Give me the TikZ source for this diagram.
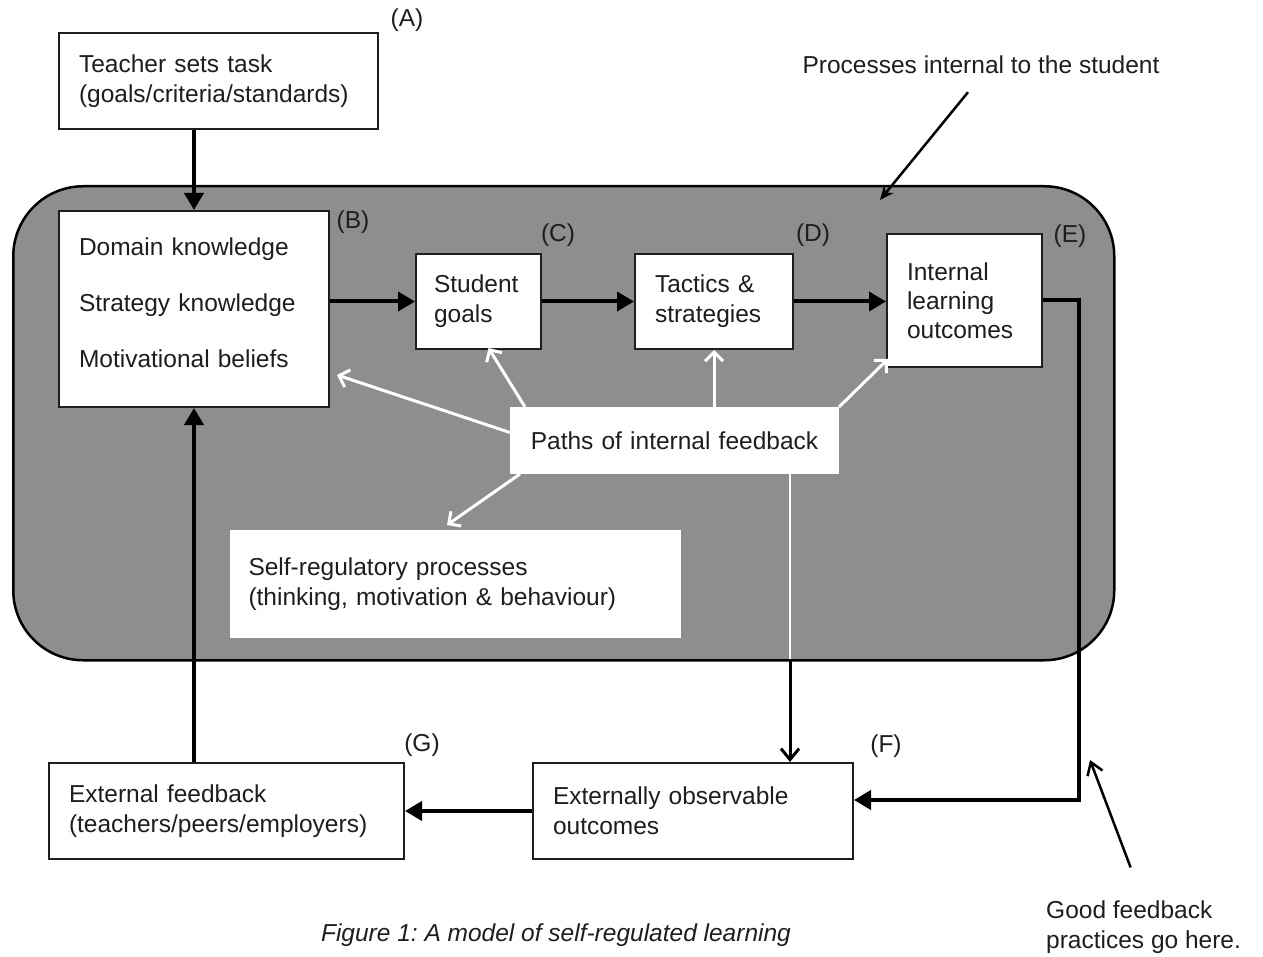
\documentclass[tikz,border=0pt]{standalone}
\usepackage{fontspec}
\setmainfont{Liberation Sans}
\usetikzlibrary{arrows.meta,calc}
\definecolor{bggray}{RGB}{142,142,142}
\definecolor{ink}{RGB}{30,30,30}
\frenchspacing
\begin{document}
\begin{tikzpicture}[x=1pt,y=-1pt,
  every node/.style={font=\fontsize{24.5}{30}\selectfont,text=ink},
  box/.style={draw=ink,line width=2pt,fill=white,anchor=north west,align=left,inner xsep=20pt,inner ysep=0pt},
  wbox/.style={draw=white,line width=1pt,fill=white,anchor=north west,inner ysep=0pt},
  lbl/.style={inner sep=0pt},
  barr/.style={draw=black,line width=4pt,-{Triangle[length=17pt,width=19pt]}},
  warr/.style={draw=white,line width=3pt,-{Straight Barb[length=9pt,width=18pt]}},
  thinarr/.style={draw=black,line width=2.5pt}
]
\useasboundingbox (0,0) rectangle (1263,957);

% region of internal processes
\node[draw=black,line width=2.5pt,fill=bggray,rounded corners=70pt,anchor=north west,
      minimum width=1101pt,minimum height=474pt,inner sep=0pt] (region) at (12,185) {};

% boxes
\node[box,minimum width=319pt,minimum height=96pt,text width=279pt] (A) at (58,32)
  {Teacher sets task\\(goals/criteria/standards)};
\node[box,minimum width=270pt,minimum height=196pt,text width=230pt] (B) at (58,210)
  {Domain knowledge\\[26pt]Strategy knowledge\\[26pt]Motivational beliefs\\[-26pt]\strut};
\node[box,minimum width=125pt,minimum height=95pt,inner xsep=18pt,text width=89pt] (C) at (415,253)
  {Student\\goals};
\node[box,minimum width=158pt,minimum height=95pt,text width=118pt] (D) at (634,253)
  {Tactics \&\\strategies};
\node[box,minimum width=155pt,minimum height=133pt,text width=115pt,
      font=\fontsize{24.5}{29}\selectfont] (E) at (886,233)
  {Internal\\learning\\outcomes};
\node[box,minimum width=320pt,minimum height=96pt,text width=280pt] (F) at (532,762)
  {Externally observable\\outcomes};
\node[box,minimum width=355pt,minimum height=96pt,text width=315pt] (G) at (48,762)
  {External feedback\\(teachers/peers/employers)};
\node[wbox,align=left,minimum width=450pt,minimum height=107pt,inner xsep=18pt,text width=414pt] (self) at (230,530)
  {Self-regulatory processes\\(thinking, motivation \& behaviour)};
\node[wbox,align=center,minimum width=328pt,minimum height=66pt,inner xsep=0pt,text width=328pt] (paths) at (510,407)
  {Paths of internal feedback};

% labels
\node[lbl] (la) at (407,20) {(A)};
\node[lbl] (lb) at (353,222) {(B)};
\node[lbl] (lc) at (558,235) {(C)};
\node[lbl] (ld) at (813,235) {(D)};
\node[lbl] (le) at (1070,236) {(E)};
\node[lbl] (lf) at (886,746) {(F)};
\node[lbl] (lg) at (422,745) {(G)};

% annotations
\node[lbl] (proc) at (981,65) {Processes internal to the student};
\coordinate (ptip) at (880,200);
\draw[thinarr,-{Stealth[length=14pt,width=12pt]}] ($(proc.south)+(-13,18)$) -- (ptip);

\node[lbl,anchor=west,align=left] (good) at (1046,927) {Good feedback\\practices go here.};
\coordinate (gtip) at (1090,760);
\draw[thinarr,-{Straight Barb[length=12pt,width=16pt]}] ($(good.north)+(-13,-33)$) -- (gtip);

\node[lbl,font={\fontsize{24.5}{30}\selectfont\itshape}] (cap) at (556,935)
  {Figure 1: A model of self-regulated learning};

% black flow arrows
\draw[barr] (B.north |- A.south) -- (B.north);
\draw[barr] (B.east |- C.west) -- (C.west);
\draw[barr] (C.east) -- (D.west);
\draw[barr] (D.east) -- (E.west |- D.east);
\draw[barr] (F.west) -- (G.east);
\draw[barr] (G.north -| B.south) -- (B.south);
\coordinate (ecorner) at (1079,800);
\draw[barr] (E.east) -| (ecorner) -- (F.east |- ecorner);

% internal feedback paths
\draw[warr] ($(paths.west)+(0,-8)$) -- ($(B.south east)+(7,-33)$);
\draw[warr] ($(paths.north west)+(15,0)$) -- ($(C.south)+(10,-2)$);
\draw[warr] (D.south |- paths.north) -- (D.south);
\draw[warr] (paths.north east) -- ($(E.south west)+(2,-9)$);
\draw[warr] ($(paths.south west)+(10,0)$) -- ($(self.north west)+(217,-5)$);
\coordinate (fb) at (790,659);
\draw[draw=white,line width=2.5pt] (paths.south -| fb) -- (fb);
\draw[draw=black,line width=3pt,-{Straight Barb[length=11pt,width=18pt]}] (fb) -- (F.north -| fb);
\end{tikzpicture}
\end{document}
